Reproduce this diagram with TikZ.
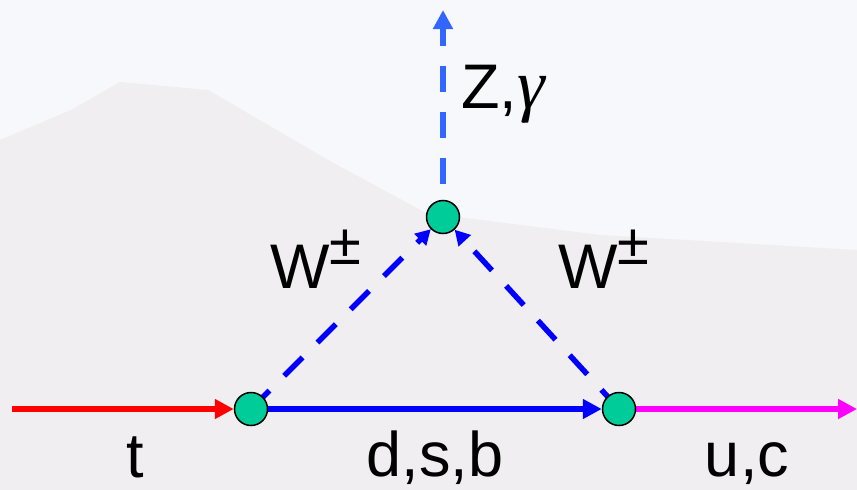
\documentclass[tikz,border=0pt]{standalone}
\usepackage{fontspec}
\setmainfont{Liberation Sans}
\newfontfamily\greekfont{Liberation Serif}
\usetikzlibrary{arrows.meta}
\definecolor{vgreen}{RGB}{0,204,153}
\definecolor{zblue}{RGB}{51,102,255}
\definecolor{qblue}{RGB}{0,0,255}
\definecolor{qred}{RGB}{255,0,0}
\definecolor{qmagenta}{RGB}{255,0,255}
\definecolor{bgtop}{RGB}{246,248,251}
\definecolor{bglow}{RGB}{240,238,240}
\pgfdeclarelayer{bglayer}
\pgfdeclarelayer{lines}
\pgfsetlayers{bglayer,lines,main}
\begin{document}
\begin{tikzpicture}[x=1pt,y=-1pt,
  vertex/.style={circle,draw=black,line width=1.5pt,fill=vgreen,minimum size=33pt,inner sep=0pt},
  fermion/.style={line width=6pt,-{Triangle[length=19pt,width=19pt]}},
  wdash/.style={qblue,line width=5.5pt,dash pattern=on 26pt off 21pt,-{Triangle[length=15pt,width=16pt]}},
  zdash/.style={zblue,line width=6pt,dash pattern=on 26pt off 20pt,dash phase=8pt,{Triangle[length=19pt,width=19pt]}-},
  lbl/.style={font=\fontsize{63}{70}\selectfont,inner sep=0pt,text=black}]
\useasboundingbox (0,0) rectangle (857,490);
\begin{pgfonlayer}{bglayer}
  \fill[bgtop] (0,0) rectangle (857,490);
  \fill[bglow] (0,140) -- (71,110) -- (120,82) -- (208,90) -- (328,160) -- (426,213) -- (600,235) -- (857,250) -- (857,490) -- (0,490) -- cycle;
\end{pgfonlayer}
\node[vertex] (A) at (251,409) {};
\node[vertex] (B) at (619,409) {};
\node[vertex] (C) at (443,217) {};
\coordinate (tin) at (12,409);
\coordinate (uout) at (857,409);
\coordinate (ztop) at (443,10);
\begin{pgfonlayer}{lines}
  \draw[fermion,qred] (tin) -- (A);
  \draw[fermion,qblue] (A) -- (B);
  \draw[fermion,qmagenta] (B) -- (uout);
  \draw[wdash] (A.center) -- (C);
  \draw[wdash] (B.center) -- (C);
  \draw[zdash] (ztop) -- (C.center);
\end{pgfonlayer}
\node[lbl,anchor=base west] (zl) at (461,108) {Z,{\greekfont\itshape\fontsize{70}{70}\selectfont γ}};
\node[lbl,anchor=base west] (wl) at (270,288) {W\raisebox{24pt}{\fontsize{58}{58}\selectfont ±}};
\node[lbl,anchor=base west] (wr) at (558,288) {W\raisebox{24pt}{\fontsize{58}{58}\selectfont ±}};
\node[lbl,anchor=base] (tl) at (135,477) {t};
\node[lbl,anchor=base] (dl) at (435,476) {d,s,b};
\node[lbl,anchor=base] (ul) at (747,476) {u,c};
\end{tikzpicture}
\end{document}
